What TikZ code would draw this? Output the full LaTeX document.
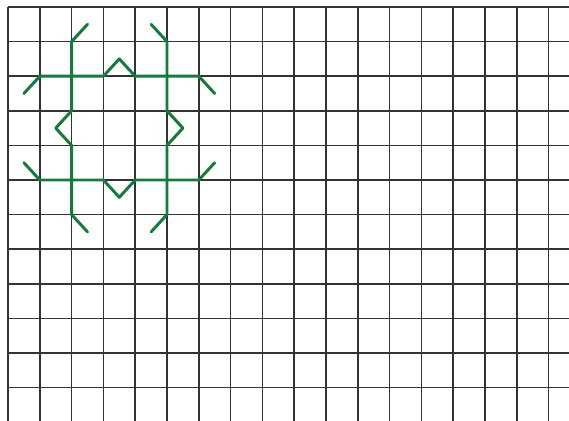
\documentclass[tikz,border=0pt]{standalone}
\usetikzlibrary{positioning}

\definecolor{motifgreen}{RGB}{20,122,62}

\begin{document}
\begin{tikzpicture}[
    x=0.795cm, y=-0.865cm,
    gridline/.style={draw=black!80, line width=1.2pt},
    motif/.style={draw=motifgreen, line width=2.1pt, line cap=round, line join=round}
]

% White Background fixing the margins
\path[fill=white, use as bounding box] (-0.2516, -0.2023) rectangle (17.642, 11.965);

% ==================== GRID ====================

\foreach \i in {0,...,17} {
    \draw[gridline] (\i, 0) -- (\i, 12.2);
}
\foreach \j in {0,...,12} {
    \draw[gridline] (0, \j) -- (17.8, \j);
}

% ==================== GREEN MOTIF ====================

% Columns
\draw[motif] (2.5,0.5) -- (2,1) -- (2,3) -- (1.5,3.5) -- (2,4) -- (2,6) -- (2.5,6.5);
\draw[motif] (4.5,0.5) -- (5,1) -- (5,3) -- (5.5,3.5) -- (5,4) -- (5,6) -- (4.5,6.5);

% Rows
\draw[motif] (0.5,2.5) -- (1,2) -- (3,2) -- (3.5,1.5) -- (4,2) -- (6,2) -- (6.5,2.5);
\draw[motif] (0.5,4.5) -- (1,5) -- (3,5) -- (3.5,5.5) -- (4,5) -- (6,5) -- (6.5,4.5);

\end{tikzpicture}
\end{document}
